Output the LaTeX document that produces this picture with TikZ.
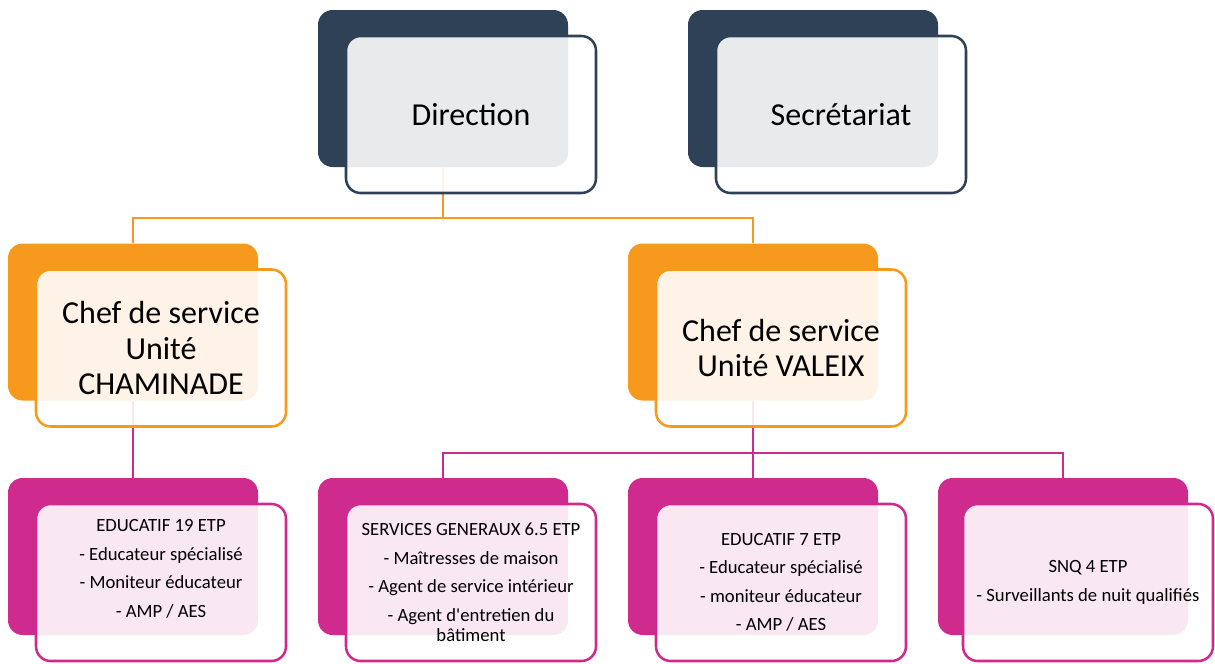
\documentclass[tikz,border=0pt]{standalone}
\usepackage{fontspec}
\setmainfont{Carlito}
\definecolor{navy}{HTML}{2F4157}
\definecolor{orng}{HTML}{F7991C}
\definecolor{mgnt}{HTML}{CF2B8E}

\begin{document}
\begin{tikzpicture}[x=0.75pt, y=-0.75pt,
    box/.style = {rectangle, rounded corners=11pt, minimum width=187.5pt, minimum height=117.75pt, inner sep=0pt},
    back/.style = {box, fill=#1},
    front/.style = {box, draw=#1, line width=1.9pt, fill=white, fill opacity=0.89, text opacity=1, align=center, text=black},
    big/.style = {font=\fontsize{24}{26.3}\selectfont},
    small/.style = {font=\fontsize{14}{15.4}\selectfont},
    link/.style = {draw=#1, line width=2.2pt}]
    \useasboundingbox (0,0) rectangle (1215,664);
    % back plates
    \node[back=navy] (dirB) at (443,88.5) {};
    \node[back=navy] (secB) at (813,88.5) {};
    \node[back=orng] (chefLB) at (133,322) {};
    \node[back=orng] (chefRB) at (753,322) {};
    \node[back=mgnt] (educLB) at (133,556.5) {};
    \node[back=mgnt] (servB) at (443,556.5) {};
    \node[back=mgnt] (educRB) at (753,556.5) {};
    \node[back=mgnt] (snqB) at (1063,556.5) {};
    % links
    \draw[link=orng] (dirB.south) -- (dirB.south |- 0,218);
    \draw[link=orng] (chefLB.north) |- (dirB.south |- 0,218) -| (chefRB.north);
    \draw[link=mgnt] (chefLB.south) -- (educLB.north);
    \draw[link=mgnt] (chefRB.south) -- (educRB.north);
    \draw[link=mgnt] (servB.north) |- (chefRB.south |- 0,453) -| (snqB.north);
    % front cards
    \node[front=navy, big] (dir) at ([shift={(28,26)}]dirB.center) {Direction};
    \node[front=navy, big] (sec) at ([shift={(28,26)}]secB.center) {Secrétariat};
    \node[front=orng, big] (chefL) at ([shift={(28,26)}]chefLB.center) {Chef de service\\Unité\\CHAMINADE};
    \node[front=orng, big] (chefR) at ([shift={(28,26)}]chefRB.center) {Chef de service\\Unité VALEIX};
    \node[front=mgnt, small] (educL) at ([shift={(28,26)}]educLB.center)
        {EDUCATIF 19 ETP\\[6pt]- Educateur spécialisé\\[6pt]- Moniteur éducateur\\[6pt]- AMP / AES\\[6pt]\mbox{}};
    \node[front=mgnt, small] (serv) at ([shift={(28,26)}]servB.center)
        {SERVICES GENERAUX 6.5 ETP\\[6pt]- Maîtresses de maison\\[6pt]- Agent de service intérieur\\[6pt]- Agent d\textquotesingle entretien du\\bâtiment};
    \node[front=mgnt, small] (educR) at ([shift={(28,26)}]educRB.center)
        {EDUCATIF 7 ETP\\[6pt]- Educateur spécialisé\\[6pt]- moniteur éducateur\\[6pt]- AMP / AES};
    \node[front=mgnt, small] (snq) at ([shift={(25,26)}]snqB.center)
        {SNQ 4 ETP\\[6pt]- Surveillants de nuit qualifiés};
\end{tikzpicture}
\end{document}
